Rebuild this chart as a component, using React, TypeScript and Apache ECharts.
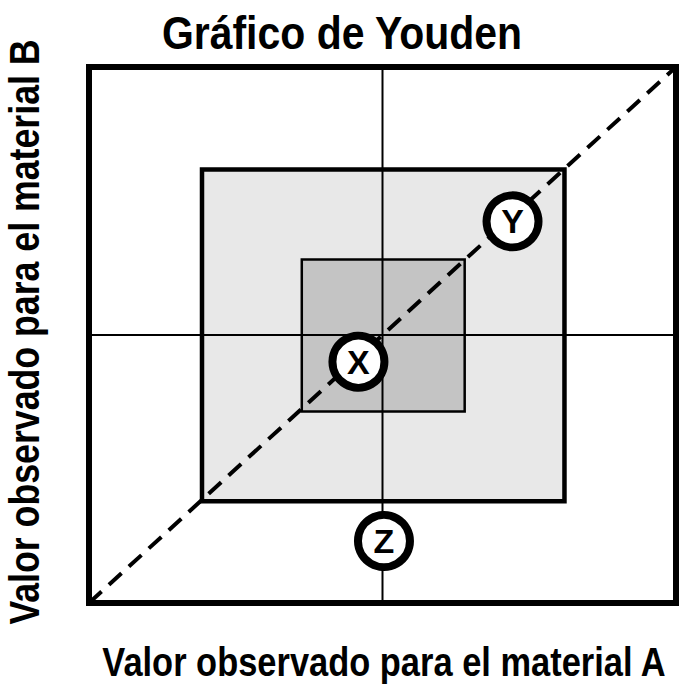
import React, { useEffect, useRef } from "react";
import * as echarts from "echarts";

const titleText = "Gráfico de Youden";
const xAxisName = "Valor observado para el material A";
const yAxisName = "Valor observado para el material B";

const axisMin = -10;
const axisMax = 10;

// rectangles: [x1, y1, x2, y2]
const outerBox = [-6.15, -6.2, 6.2, 6.18];
const innerBox = [-2.75, -2.85, 2.8, 2.82];

// diagonal reference line
const diagonal = [
  [-10, -10],
  [10, 10],
];

// centre lines
const hLine = [
  [-10, 0],
  [10, 0],
];
const vLine = [
  [0, -10],
  [0, 10],
];

const pointNames = ["X", "Y", "Z"];
const pointX = [-0.82, 4.43, 0.05];
const pointY = [-1.0, 4.24, -7.69];

const FONT = "'Liberation Sans', Arial, sans-serif";

export default function App() {
  const ref = useRef<HTMLDivElement>(null);

  useEffect(() => {
    document.body.style.margin = "0";
    if (!ref.current) return;
    const chart = echarts.init(ref.current, null, { renderer: "svg" });

    const rectItem = (fill: string, bw: number) => (params: any, api: any) => {
      const p1 = api.coord([api.value(0), api.value(1)]);
      const p2 = api.coord([api.value(2), api.value(3)]);
      return {
        type: "rect",
        shape: {
          x: Math.min(p1[0], p2[0]),
          y: Math.min(p1[1], p2[1]),
          width: Math.abs(p2[0] - p1[0]),
          height: Math.abs(p2[1] - p1[1]),
        },
        style: { fill, stroke: "#000", lineWidth: bw },
      };
    };

    chart.setOption({
      animation: false,
      backgroundColor: "#fff",
      grid: {
        left: 89,
        top: 67,
        width: 587,
        height: 536,
        show: true,
        borderColor: "#000",
        borderWidth: 6,
      },
      xAxis: {
        type: "value",
        min: axisMin,
        max: axisMax,
        axisLine: { show: false },
        axisTick: { show: false },
        axisLabel: { show: false },
        splitLine: { show: false },
      },
      yAxis: {
        type: "value",
        min: axisMin,
        max: axisMax,
        axisLine: { show: false },
        axisTick: { show: false },
        axisLabel: { show: false },
        splitLine: { show: false },
      },
      graphic: [
        {
          type: "text",
          x: 342,
          y: 33,
          scaleX: 0.89,
          style: {
            text: titleText,
            font: `bold 46px ${FONT}`,
            fill: "#000",
            textAlign: "center",
            textVerticalAlign: "middle",
          },
        },
        {
          type: "text",
          x: 384,
          y: 662,
          scaleX: 0.84,
          style: {
            text: xAxisName,
            font: `bold 41px ${FONT}`,
            fill: "#000",
            textAlign: "center",
            textVerticalAlign: "middle",
          },
        },
        {
          type: "text",
          x: 24,
          y: 332,
          rotation: Math.PI / 2,
          scaleX: 0.85,
          style: {
            text: yAxisName,
            font: `bold 42px ${FONT}`,
            fill: "#000",
            textAlign: "center",
            textVerticalAlign: "middle",
          },
        },
      ],
      series: [
        {
          type: "custom",
          renderItem: rectItem("#e8e8e8", 4.5),
          data: [outerBox],
          z: 1,
          silent: true,
        },
        {
          type: "custom",
          renderItem: rectItem("#c4c4c4", 2.5),
          data: [innerBox],
          z: 2,
          silent: true,
        },
        {
          type: "line",
          data: hLine,
          symbol: "none",
          lineStyle: { color: "#000", width: 2 },
          z: 3,
          silent: true,
        },
        {
          type: "line",
          data: vLine,
          symbol: "none",
          lineStyle: { color: "#000", width: 2 },
          z: 3,
          silent: true,
        },
        {
          type: "line",
          data: diagonal,
          symbol: "none",
          lineStyle: { color: "#000", width: 4, type: [17, 10] },
          z: 4,
          silent: true,
        },
        {
          type: "scatter",
          data: pointNames.map((n, i) => ({ name: n, value: [pointX[i], pointY[i]] })),
          symbol: "circle",
          symbolSize: 52,
          itemStyle: { color: "#fff", borderColor: "#000", borderWidth: 8, opacity: 1 },
          label: {
            show: true,
            position: "inside",
            formatter: "{b}",
            color: "#000",
            fontFamily: FONT,
            fontWeight: "bold",
            fontSize: 34,
          },
          z: 5,
          silent: true,
        },
      ],
    });

    return () => chart.dispose();
  }, []);

  return <div ref={ref} style={{ width: 684, height: 685 }} />;
}
